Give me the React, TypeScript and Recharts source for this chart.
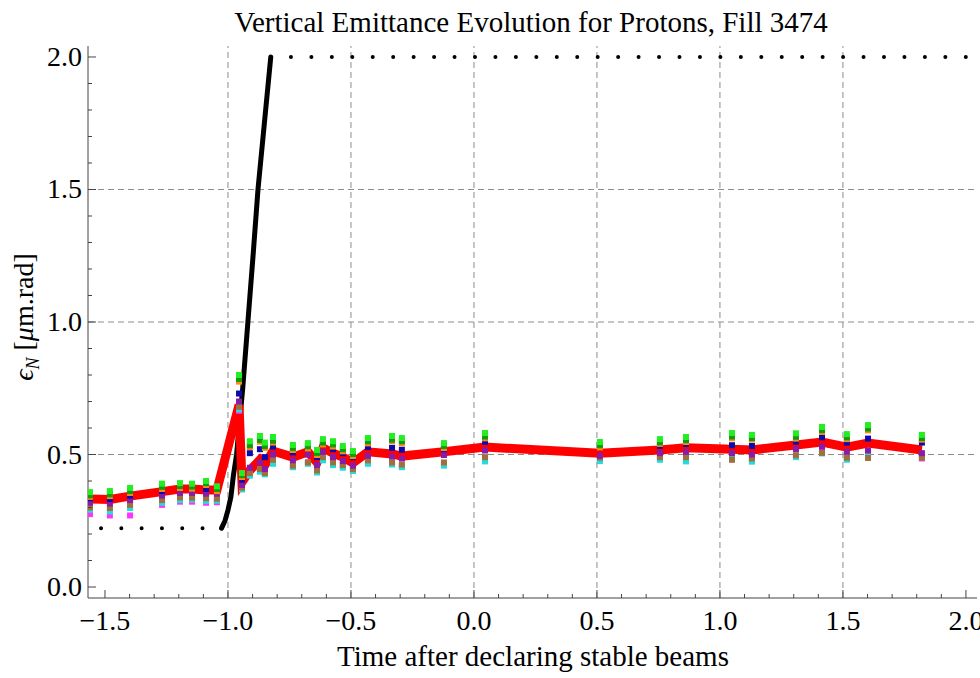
import { ComposedChart, Line, Scatter, XAxis, YAxis, ReferenceLine } from 'recharts';

// times in hours after stable beams, one entry per emittance measurement
const times = [
  -1.561, -1.48, -1.398, -1.268, -1.195, -1.146, -1.089, -1.045, -0.955, -0.943,
  -0.911, -0.87, -0.85, -0.817, -0.736, -0.675, -0.638, -0.614, -0.573, -0.533,
  -0.492, -0.431, -0.333, -0.293, -0.122, 0.045, 0.512, 0.756, 0.862, 1.049,
  1.13, 1.309, 1.415, 1.516, 1.602, 1.821,
];

// average emittance (red line)
const meanEmit = [
  0.332, 0.33, 0.343, 0.36, 0.37, 0.37, 0.366, 0.366, 0.687, 0.396,
  0.44, 0.48, 0.46, 0.513, 0.49, 0.51, 0.47, 0.525, 0.505, 0.49,
  0.468, 0.51, 0.502, 0.494, 0.51, 0.528, 0.505, 0.517, 0.525, 0.52,
  0.517, 0.536, 0.547, 0.528, 0.543, 0.517,
];

// individual bunches
const limeEmit = [
  0.358, 0.362, 0.374, 0.39, 0.392, 0.39, 0.4, 0.38, 0.8, 0.43,
  0.55, 0.57, 0.545, 0.566, 0.536, 0.543, 0.517, 0.558, 0.55, 0.532,
  0.513, 0.562, 0.57, 0.562, 0.543, 0.581, 0.547, 0.558, 0.566, 0.581,
  0.574, 0.58, 0.604, 0.577, 0.611, 0.574,
];
const greenEmit = [
  0.346, 0.35, 0.362, 0.378, 0.381, 0.379, 0.392, 0.37, 0.785, 0.422,
  0.535, 0.555, 0.532, 0.552, 0.525, 0.531, 0.506, 0.545, 0.538, 0.52,
  0.502, 0.55, 0.556, 0.55, 0.532, 0.568, 0.535, 0.546, 0.554, 0.568,
  0.562, 0.567, 0.592, 0.565, 0.598, 0.562,
];
const orangeEmit = [
  0.34, 0.343, 0.355, 0.37, 0.373, 0.371, 0.385, 0.362, 0.775, 0.415,
  0.528, 0.548, 0.525, 0.545, 0.517, 0.523, 0.498, 0.538, 0.53, 0.512,
  0.494, 0.542, 0.55, 0.543, 0.524, 0.561, 0.527, 0.54, 0.547, 0.561,
  0.556, 0.56, 0.585, 0.558, 0.591, 0.556,
];
const navyEmit = [
  0.335, 0.332, 0.345, 0.362, 0.372, 0.372, 0.37, 0.368, 0.73, 0.405,
  0.505, 0.52, 0.49, 0.53, 0.508, 0.525, 0.49, 0.54, 0.52, 0.505,
  0.49, 0.528, 0.525, 0.518, 0.52, 0.548, 0.535, 0.532, 0.54, 0.535,
  0.532, 0.548, 0.565, 0.545, 0.56, 0.545,
];
const purpleEmit = [
  0.318, 0.315, 0.328, 0.345, 0.355, 0.355, 0.352, 0.352, 0.7, 0.385,
  0.45, 0.47, 0.445, 0.5, 0.478, 0.5, 0.46, 0.51, 0.49, 0.475,
  0.458, 0.495, 0.492, 0.485, 0.498, 0.515, 0.495, 0.505, 0.51, 0.505,
  0.5, 0.52, 0.53, 0.51, 0.515, 0.505,
];
const brownEmit = [
  0.3, 0.298, 0.31, 0.328, 0.338, 0.337, 0.335, 0.333, 0.68, 0.375,
  0.43, 0.445, 0.43, 0.48, 0.458, 0.47, 0.44, 0.49, 0.47, 0.46,
  0.445, 0.478, 0.47, 0.462, 0.47, 0.49, 0.488, 0.49, 0.49, 0.48,
  0.485, 0.497, 0.506, 0.488, 0.487, 0.488,
];
const cyanEmit = [
  0.292, 0.285, 0.298, 0.318, 0.328, 0.33, 0.325, 0.326, 0.67, 0.368,
  0.42, 0.435, 0.425, 0.465, 0.452, 0.465, 0.432, 0.478, 0.46, 0.45,
  0.438, 0.465, 0.462, 0.452, 0.458, 0.474, 0.475, 0.48, 0.474, 0.486,
  0.473, 0.49, 0.504, 0.48, 0.505, 0.5,
];
const magentaEmit = [
  0.275, 0.27, 0.27, 0.31, 0.322, 0.322, 0.318, 0.32, 0.665, 0.37,
  0.425, 0.438, 0.43, 0.468, 0.455, 0.47, 0.44, 0.48, 0.462, 0.455,
  0.44, 0.47, 0.465, 0.455, 0.46, 0.48, 0.478, 0.485, 0.48, 0.49,
  0.478, 0.495, 0.51, 0.485, 0.505, 0.485,
];

// energy ramp (black)
const rampX = [-1.026, -1.012, -1.0, -0.988, -0.978, -0.965, -0.94, -0.919, -0.898, -0.878, -0.852, -0.826];
const rampY = [0.222, 0.25, 0.29, 0.34, 0.42, 0.5, 0.75, 1.0, 1.25, 1.5, 1.75, 2.0];
const lowPlateauX = [-1.516, -1.1];
const lowPlateauY = [0.222, 0.222];
const highPlateauX = [-0.744, 2.01];
const highPlateauY = [2.0, 2.0];

const xMajor = [-1.5, -1.0, -0.5, 0.0, 0.5, 1.0, 1.5, 2.0];
const xTicks = [
  -1.5, -1.4, -1.3, -1.2, -1.1, -1.0, -0.9, -0.8, -0.7, -0.6, -0.5, -0.4, -0.3, -0.2, -0.1,
  0.0, 0.1, 0.2, 0.3, 0.4, 0.5, 0.6, 0.7, 0.8, 0.9, 1.0, 1.1, 1.2, 1.3, 1.4, 1.5,
  1.6, 1.7, 1.8, 1.9, 2.0,
];
const yMajor = [0.0, 0.5, 1.0, 1.5, 2.0];
const yTicks = [
  0.0, 0.1, 0.2, 0.3, 0.4, 0.5, 0.6, 0.7, 0.8, 0.9, 1.0, 1.1, 1.2, 1.3, 1.4, 1.5,
  1.6, 1.7, 1.8, 1.9, 2.0,
];
const xGrid = [-1.0, -0.5, 0.0, 0.5, 1.0, 1.5];
const yGrid = [0.5, 1.0, 1.5];

const xDomain = [-1.569, 2.045];
const yDomain = [-0.0415, 2.0415];

const font = '"Liberation Serif", "DejaVu Serif", serif';
const axisColor = '#444';

const toPts = (xs: number[], ys: number[]) => xs.map((x, i) => ({ x, y: ys[i] }));

const bunches = [
  { name: 'magenta', color: '#ff33ff', values: magentaEmit },
  { name: 'cyan', color: '#22dddd', values: cyanEmit },
  { name: 'brown', color: '#a0703c', values: brownEmit },
  { name: 'purple', color: '#8a1aa8', values: purpleEmit },
  { name: 'navy', color: '#0a0ab0', values: navyEmit },
  { name: 'orange', color: '#ff8a10', values: orangeEmit },
  { name: 'green', color: '#109a10', values: greenEmit },
  { name: 'lime', color: '#22ee22', values: limeEmit },
];

const isMajor = (v: number, majors: number[]) => majors.some((m) => Math.abs(m - v) < 1e-6);
const fmt = (v: number) => (v < 0 ? '\u2212' : '') + Math.abs(v).toFixed(1);

function BottomTick(props: any) {
  const { x, y, payload } = props;
  const major = isMajor(payload.value, xMajor);
  return (
    <g>
      <line x1={x} x2={x} y1={y} y2={y - (major ? 8 : 4)} stroke={axisColor} />
      {major && (
        <text x={x} y={y + 32} textAnchor="middle" fontFamily={font} fontSize={28} fill="#000">
          {fmt(payload.value)}
        </text>
      )}
    </g>
  );
}

function TopTick(props: any) {
  const { x, y, payload } = props;
  const major = isMajor(payload.value, xMajor);
  return <line x1={x} x2={x} y1={y} y2={y + (major ? 8 : 4)} stroke={axisColor} />;
}

function LeftTick(props: any) {
  const { x, y, payload } = props;
  const major = isMajor(payload.value, yMajor);
  return (
    <g>
      <line x1={x} x2={x + (major ? 8 : 4)} y1={y} y2={y} stroke={axisColor} />
      {major && (
        <text x={x - 6} y={y + 9} textAnchor="end" fontFamily={font} fontSize={28} fill="#000">
          {fmt(payload.value)}
        </text>
      )}
    </g>
  );
}

function RightTick(props: any) {
  const { x, y, payload } = props;
  const major = isMajor(payload.value, yMajor);
  return <line x1={x} x2={x - (major ? 8 : 4)} y1={y} y2={y} stroke={axisColor} />;
}

const Square = (color: string) => (p: any) => (
  <rect x={p.cx - 3} y={p.cy - 3} width={6} height={6} fill={color} />
);

export default function App() {
  return (
    <div style={{ position: 'absolute', left: 0, top: 0, width: 980, height: 678, background: '#fff' }}>
      <ComposedChart width={980} height={678} margin={{ top: 46, right: 3, bottom: 0, left: 0 }}>
        <XAxis
          dataKey="x"
          type="number"
          domain={xDomain}
          allowDataOverflow
          ticks={xTicks}
          interval={0}
          height={80}
          tickSize={0}
          tickMargin={0}
          tickLine={false}
          tick={<BottomTick />}
          axisLine={{ stroke: axisColor }}
        />
        <XAxis
          xAxisId="top"
          orientation="top"
          dataKey="x"
          type="number"
          domain={xDomain}
          allowDataOverflow
          ticks={xTicks}
          interval={0}
          height={0}
          tickSize={0}
          tickMargin={0}
          tickLine={false}
          tick={<TopTick />}
          axisLine={{ stroke: axisColor }}
        />
        <YAxis
          type="number"
          domain={yDomain}
          allowDataOverflow
          ticks={yTicks}
          interval={0}
          width={88}
          tickSize={0}
          tickMargin={0}
          tickLine={false}
          tick={<LeftTick />}
          axisLine={{ stroke: axisColor }}
        />
        <YAxis
          yAxisId="right"
          orientation="right"
          type="number"
          domain={yDomain}
          allowDataOverflow
          ticks={yTicks}
          interval={0}
          width={0}
          tickSize={0}
          tickMargin={0}
          tickLine={false}
          tick={<RightTick />}
          axisLine={{ stroke: axisColor }}
        />
        {xGrid.map((v) => (
          <ReferenceLine key={`gx${v}`} x={v} stroke="#8c8c8c" strokeDasharray="6 4" />
        ))}
        {yGrid.map((v) => (
          <ReferenceLine key={`gy${v}`} y={v} stroke="#8c8c8c" strokeDasharray="6 4" />
        ))}
        <Line
          data={toPts(lowPlateauX, lowPlateauY)}
          dataKey="y"
          stroke="#000"
          strokeWidth={4}
          strokeLinecap="round"
          strokeDasharray="0 20.3"
          dot={false}
          activeDot={false}
          isAnimationActive={false}
        />
        <Line
          data={toPts(highPlateauX, highPlateauY)}
          dataKey="y"
          stroke="#000"
          strokeWidth={4}
          strokeLinecap="round"
          strokeDasharray="0 20.45"
          dot={false}
          activeDot={false}
          isAnimationActive={false}
        />
        <Line
          data={toPts(rampX, rampY)}
          dataKey="y"
          stroke="#000"
          strokeWidth={5}
          strokeLinecap="round"
          dot={false}
          activeDot={false}
          isAnimationActive={false}
        />
        {bunches.map((b) => (
          <Scatter
            key={b.name}
            name={b.name}
            data={toPts(times, b.values)}
            dataKey="y"
            shape={Square(b.color)}
            isAnimationActive={false}
          />
        ))}
        <Line
          data={toPts(times, meanEmit)}
          dataKey="y"
          stroke="#ff0000"
          strokeWidth={9}
          strokeLinejoin="miter"
          dot={false}
          activeDot={false}
          isAnimationActive={false}
        />
      </ComposedChart>
      <svg
        width={980}
        height={678}
        style={{ position: 'absolute', left: 0, top: 0, pointerEvents: 'none' }}
      >
        <text x={531} y={32} textAnchor="middle" fontFamily={font} fontSize={29} fill="#000">
          Vertical Emittance Evolution for Protons, Fill 3474
        </text>
        <text x={533} y={666} textAnchor="middle" fontFamily={font} fontSize={29} fill="#000">
          Time after declaring stable beams
        </text>
        <text transform="rotate(-90)" x={-317} y={33} textAnchor="middle" fontFamily={font} fontSize={28} fill="#000">
          <tspan fontStyle="italic">ϵ</tspan>
          <tspan fontSize={18} fontStyle="italic" dy={6}>N</tspan>
          <tspan dy={-6}> [</tspan>
          <tspan fontStyle="italic">μ</tspan>
          <tspan>m.rad]</tspan>
        </text>
      </svg>
    </div>
  );
}
